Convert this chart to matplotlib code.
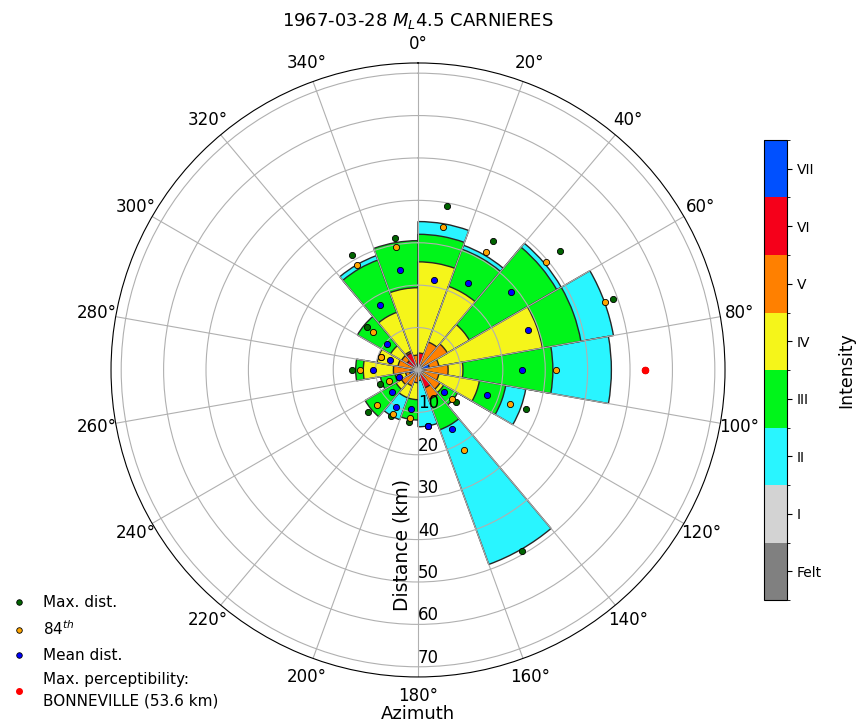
import numpy as np
import matplotlib
matplotlib.use("Agg")
import matplotlib.pyplot as plt
from matplotlib.colors import ListedColormap, BoundaryNorm
from matplotlib.cm import ScalarMappable
from matplotlib.lines import Line2D

nan = np.nan

# azimuth bins (centre, deg) - 20 deg wide
azimuth = np.arange(10, 360, 20)

# outer distance (km) reached by each intensity class in each bin
dist_II = [35.0, 31.3, 39.0, 46.8, 45.6, 25.8, nan, 48.8, 13.4, nan, 12.5, nan, nan, nan, nan, nan, 28.7, nan]
dist_III = [32.0, 30.3, 37.8, 39.0, 31.8, 21.0, 10.8, 15.0, nan, 11.8, nan, 14.4, 9.0, 14.7, nan, 16.5, 27.6, 30.5]
dist_IV = [25.5, 21.0, 14.0, 29.8, 10.6, 14.7, 7.0, nan, nan, 7.0, 7.0, 6.0, 5.5, 12.9, 9.8, 7.5, 14.5, 19.4]
dist_V = [nan, 7.0, 8.0, 5.0, 7.1, 5.0, 6.0, 7.4, 2.5, 3.0, 4.0, 4.5, 3.0, 5.8, 4.8, 4.5, 4.7, 3.5]
dist_VI = [4.0, nan, nan, nan, nan, nan, nan, 4.5, nan, nan, nan, nan, nan, nan, nan, 3.0, 4.3, nan]
dist_VII = [nan, nan, nan, 2.7, nan, nan, nan, nan, nan, nan, nan, nan, 2.0, nan, nan, nan, nan, nan]

# distance statistics per bin (km)
max_dist = [39.2, 35.2, 43.8, 49.0, 53.6, 27.2, 11.8, 49.2, 13.4, 12.5, 12.6, 15.3, 9.5, 15.5, 9.2, 15.8, 31.2, 31.5]
p84_dist = [34.3, 32.1, 39.5, 47.0, 32.6, 23.2, 10.5, 21.8, 13.4, 11.5, 12.0, 12.7, 7.4, 13.7, 9.2, 13.9, 28.6, 29.5]
mean_dist = [21.6, 23.8, 28.7, 27.6, 24.6, 17.2, 8.1, 16.0, 13.4, 9.4, 10.2, 8.0, 4.7, 10.5, 7.1, 9.6, 17.7, 23.9]

# max perceptibility
far_azimuth = 90.0
far_dist = 53.6
far_name = "BONNEVILLE"

int_labels = ["Felt", "I", "II", "III", "IV", "V", "VI", "VII"]
int_colors = ["#808080", "#d3d3d3", "#29f5ff", "#00f51a", "#f5f51a", "#ff8000", "#f5001a", "#0050ff"]

fig = plt.figure(figsize=(8.58, 7.28), dpi=100)
ax = fig.add_axes([0.1294, 0.0701, 0.7156, 0.8434], projection="polar")
ax.set_theta_zero_location("N")
ax.set_theta_direction(-1)

th = np.deg2rad(azimuth)
width = np.deg2rad(20)
levels = [dist_II, dist_III, dist_IV, dist_V, dist_VI, dist_VII]
for vals, col in zip(levels, int_colors[2:]):
    vals = np.array(vals)
    ok = ~np.isnan(vals)
    ax.bar(th[ok], vals[ok], width=width, color=col, edgecolor="#262626", linewidth=1.0)

ax.scatter(th, max_dist, s=20, c="darkgreen", edgecolors="k", linewidths=0.6, zorder=3)
ax.scatter(th, p84_dist, s=20, c="orange", edgecolors="k", linewidths=0.6, zorder=3)
ax.scatter(th, mean_dist, s=20, c="blue", edgecolors="k", linewidths=0.6, zorder=3)
ax.scatter([np.deg2rad(far_azimuth)], [far_dist], s=20, c="red", zorder=4)

ax.set_ylim(0, 72.4)
ax.set_rticks([10, 20, 30, 40, 50, 60, 70])
ax.set_thetagrids(np.arange(0, 360, 20))
ax.set_rlabel_position(180)
ax.tick_params(axis="x", labelsize=12)
ax.tick_params(axis="y", labelsize=12)
for t in ax.get_yticklabels():
    t.set_ha("left")
    t.set_va("bottom")

ax.set_title("1967-03-28 $M_L$4.5 CARNIERES", fontsize=13)
ax.set_xlabel("Azimuth", fontsize=13, labelpad=0)
ax.set_ylabel("Distance (km)", fontsize=13.5)
ax.yaxis.set_label_coords(0.4886, 0.215)

# legend
handles = [
    Line2D([], [], ls="", marker="o", ms=4, mfc="darkgreen", mec="k", mew=0.6),
    Line2D([], [], ls="", marker="o", ms=4, mfc="orange", mec="k", mew=0.6),
    Line2D([], [], ls="", marker="o", ms=4, mfc="blue", mec="k", mew=0.6),
    Line2D([], [], ls="", marker="o", ms=4, mfc="red", mec="red"),
]
labels = ["Max. dist.", "$84^{th}$", "Mean dist.",
          "Max. perceptibility:\n%s (%.1f km)" % (far_name, far_dist)]
leg = fig.legend(handles, labels, loc="lower left", bbox_to_anchor=(-0.012, 0.008), frameon=False,
                 fontsize=11, labelspacing=0.62, handletextpad=0.6)
leg.get_texts()[3].set_linespacing(1.5)

# intensity colour bar
cmap = ListedColormap(int_colors)
norm = BoundaryNorm(np.arange(0, 9), cmap.N)
cax = fig.add_axes([0.8904, 0.1758, 0.0268, 0.6319])
cb = fig.colorbar(ScalarMappable(norm=norm, cmap=cmap), cax=cax)
cb.set_ticks(np.arange(0.5, 8, 1))
cb.set_ticklabels(int_labels)
cb.ax.tick_params(labelsize=10)
cb.set_label("Intensity", fontsize=12.5, labelpad=11)

fig.savefig("out.png", dpi=100)
